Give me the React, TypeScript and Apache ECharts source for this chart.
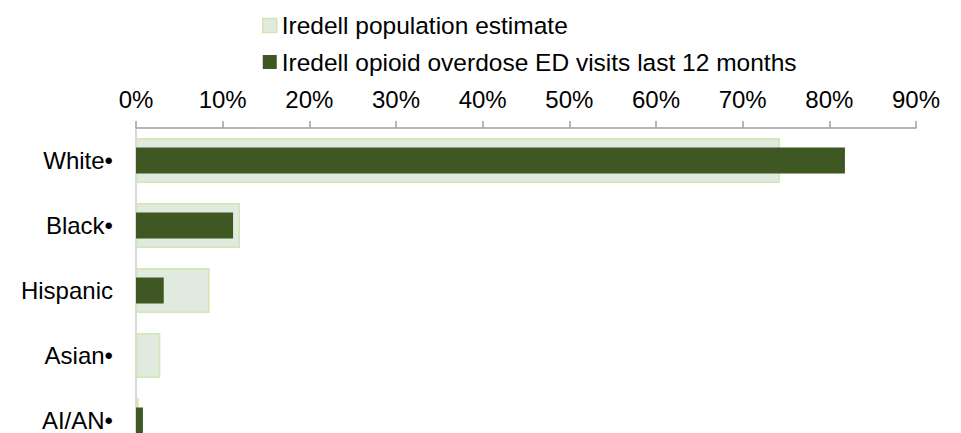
import React, { useEffect, useRef } from "react";
import * as echarts from "echarts";

const categories = ["White•", "Black•", "Hispanic", "Asian•", "AI/AN•"];
const populationEstimate = [74.3, 12.0, 8.5, 2.8, 0.3];
const overdoseVisits = [81.8, 11.2, 3.2, 0, 0.8];
const tickLabels = { min: 0, max: 90, interval: 10 };

const POP_FILL = "#E1EADE";
const POP_BORDER = "#D2E5B2";
const DARK = "#3E5723";

export default function App() {
  const ref = useRef<HTMLDivElement>(null);
  useEffect(() => {
    document.body.style.margin = "0";
    const chart = echarts.init(ref.current!, null, { renderer: "svg" });
    const font = "'Liberation Sans', Arial, sans-serif";
    chart.setOption({
      animation: false,
      textStyle: { fontFamily: font },
      legend: {
        orient: "vertical",
        left: 257,
        top: 8,
        itemWidth: 14,
        itemHeight: 14,
        itemGap: 11.5,
        textStyle: { fontFamily: font, fontSize: 24.5, color: "#000" },
        data: [
          {
            name: "Iredell population estimate",
            icon: "rect",
            itemStyle: { color: POP_FILL, borderColor: POP_BORDER, borderWidth: 1.5 },
          },
          {
            name: "Iredell opioid overdose ED visits last 12 months",
            icon: "rect",
            itemStyle: { color: DARK, borderWidth: 0 },
          },
        ],
      },
      grid: { left: 136, top: 128, width: 780, height: 325, outerBoundsMode: "none", containLabel: false },
      xAxis: {
        type: "value",
        position: "top",
        min: tickLabels.min,
        max: tickLabels.max,
        interval: tickLabels.interval,
        axisLine: { show: true, lineStyle: { color: "#A0A0A0", width: 1.5 } },
        axisTick: { show: true, length: 7, lineStyle: { color: "#A0A0A0", width: 1.5 } },
        splitLine: { show: false },
        axisLabel: {
          formatter: "{value}%",
          fontSize: 24,
          color: "#000",
          margin: 16.5,
          fontFamily: font,
        },
      },
      yAxis: [
        {
          type: "category",
          data: categories,
          inverse: true,
          axisLine: { show: true, lineStyle: { color: "#D9D9D9", width: 2 } },
          axisTick: { show: false },
          axisLabel: { fontSize: 24, color: "#000", margin: 23, fontFamily: font },
        },
        {
          type: "category",
          data: categories,
          inverse: true,
          position: "left",
          show: false,
        },
      ],
      series: [
        {
          name: "Iredell population estimate",
          type: "bar",
          yAxisIndex: 0,
          data: populationEstimate,
          barWidth: 45,
          itemStyle: { color: POP_FILL, borderColor: POP_BORDER, borderWidth: 1.5 },
          z: 2,
        },
        {
          name: "Iredell opioid overdose ED visits last 12 months",
          type: "bar",
          yAxisIndex: 1,
          data: overdoseVisits,
          barWidth: 26,
          itemStyle: { color: DARK },
          z: 3,
        },
      ],
    });
    return () => chart.dispose();
  }, []);
  return <div ref={ref} style={{ width: 961, height: 433 }} />;
}
